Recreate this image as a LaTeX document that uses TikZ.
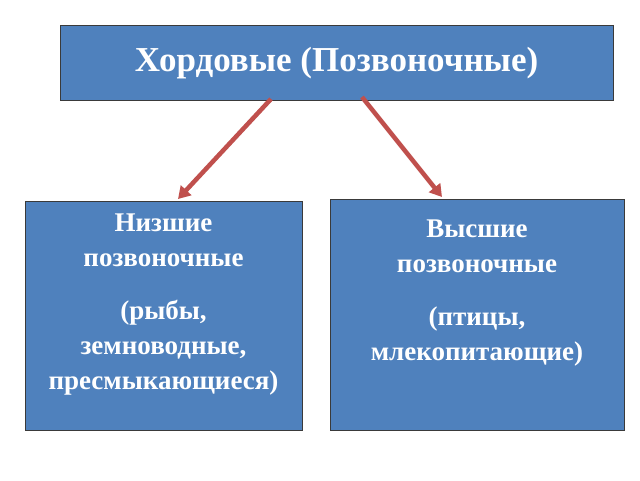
\documentclass[tikz,border=0pt]{standalone}
\usepackage{fontspec}
\setmainfont{Liberation Serif}
\usetikzlibrary{arrows.meta}
\definecolor{boxblue}{HTML}{4F81BD}
\definecolor{boxedge}{HTML}{3A3A3A}
\definecolor{arr}{HTML}{C0504D}
\begin{document}
\begin{tikzpicture}[x=1pt,y=-1pt,
  bluebox/.style={draw=boxedge,line width=0.8pt,fill=boxblue,text=white,font=\bfseries,align=center,inner sep=0pt},
  lowtext/.style={text=white,font=\bfseries\fontsize{27}{35}\selectfont,align=center,anchor=north,inner sep=0pt},
  redarrow/.style={draw=arr,line width=4.5pt,-{Triangle[length=12pt,width=14pt]}}]
\useasboundingbox (0,0) rectangle (640,480);
\fill[white] (0,0) rectangle (640,480);
\node[bluebox,minimum width=553pt,minimum height=75pt,font=\bfseries\fontsize{35}{40}\selectfont] (top) at (336.5,63) {Хордовые (Позвоночные)};
\node[bluebox,minimum width=277pt,minimum height=229pt,anchor=north west] (left) at (25,201) {};
\node[bluebox,minimum width=294pt,minimum height=231pt,anchor=north west] (right) at (330,199) {};
\node[lowtext] (lt) at (163.5,214) {Низшие\\позвоночные\\[18pt](рыбы,\\земноводные,\\пресмыкающиеся)};
\node[lowtext] (rt) at (477,220) {Высшие\\позвоночные\\[18pt](птицы,\\млекопитающие)};
\coordinate (a1) at (271,99);
\coordinate (a2) at (178,199);
\coordinate (b1) at (362,97);
\coordinate (b2) at (442,197);
\draw[redarrow] (a1) -- (a2);
\draw[redarrow] (b1) -- (b2);
\end{tikzpicture}
\end{document}
